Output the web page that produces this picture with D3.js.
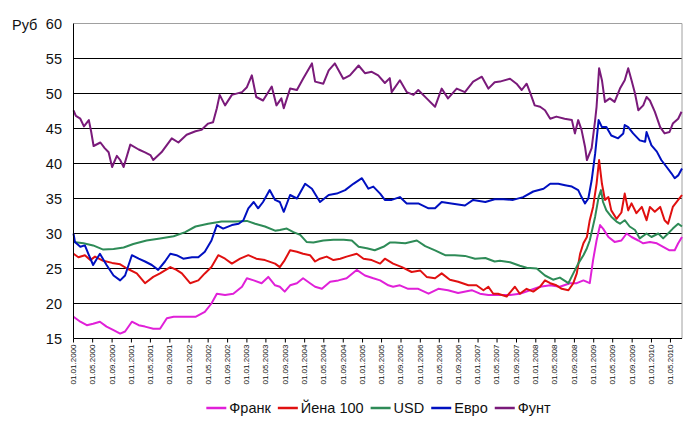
<!DOCTYPE html>
<html><head><meta charset="utf-8">
<script src="https://cdn.jsdelivr.net/npm/d3@7"></script>
<style>
html,body{margin:0;padding:0;background:#fff;}
svg text{font-family:"Liberation Sans",Arial,sans-serif;}
</style></head>
<body><svg id="c" width="695" height="422"></svg>
<script>
// values: [month offset from 01.01.2000, rubles]
const seriesNames = ["Франк","Йена 100","USD","Евро","Фунт"];
const yTicks = [15,20,25,30,35,40,45,50,55,60];
const frank = [[0,18.1],[1.4,17.4],[2.8,16.9],[4.1,17.1],[5.5,17.4],[6.9,16.7],[8.3,16.2],[9.7,15.7],[10.7,16],[12.1,17.4],[13.5,16.9],[14.9,16.7],[16.6,16.4],[18,16.4],[19.4,17.9],[20.8,18.1],[23.2,18.1],[25.3,18.1],[27.3,18.8],[28.7,20],[29.8,21.4],[31.5,21.2],[33.2,21.4],[35,22.4],[36,23.6],[37.4,23.3],[39.1,22.9],[40.5,23.8],[41.9,22.6],[42.9,22.4],[43.9,21.7],[45,22.6],[46.4,22.9],[47.7,23.6],[49.1,22.9],[50.2,22.4],[51.6,22.1],[53.3,23.1],[55,23.3],[56.7,23.6],[58.8,24.8],[60.5,24],[62.3,23.6],[63.7,23.3],[65.4,22.6],[66.4,22.4],[67.8,22.6],[69.5,22.1],[71.6,22.1],[73.7,21.4],[75.8,22.1],[77.8,21.9],[79.9,21.5],[82.7,21.9],[84.4,21.4],[86.2,21.2],[88.6,21.2],[90.7,21.2],[92.7,21.4],[94.8,21.9],[96.9,22.4],[99,22.6],[101,22.4],[103.1,22.9],[104.5,22.9],[105.9,23.3],[107.2,22.9],[107.9,26.2],[108.6,29],[109.3,31.2],[110,30.7],[111.1,29.5],[112.4,28.8],[113.8,29],[114.9,30],[115.9,29.5],[117.3,29],[118.3,28.6],[119.7,28.8],[121.1,28.6],[122.5,28.1],[123.8,27.6],[124.9,27.6],[125.6,28.6],[126.4,29.5]];
const yen = [[0,27.1],[1,26.6],[2.4,26.9],[3.5,26.2],[4.5,26.7],[6.2,26.1],[8,25.8],[9.7,25.6],[11.1,25],[13.1,24.3],[14.9,22.9],[16.6,23.8],[18,24.3],[20.1,25.2],[21.4,24.8],[22.5,24.3],[24.2,22.9],[25.9,23.3],[27.3,24.3],[28.7,25.2],[30.1,26.9],[31.5,26.4],[32.9,25.7],[34.6,26.4],[36.3,26.9],[38,26.4],[39.8,26.2],[41.9,25.7],[42.9,25.2],[43.9,26.2],[45,27.6],[46.4,27.4],[47.7,27.1],[49.1,26.9],[50.2,26],[51.2,26.4],[52.6,26.7],[54,26.2],[55.4,26.4],[56.7,26.7],[58.8,27.1],[60.2,26.4],[61.9,26.2],[63.7,25.7],[64.7,26.4],[66.4,25.7],[68.2,25.2],[70.2,24.5],[72,24.7],[73.3,23.8],[75.1,23.6],[76.5,24.3],[78.2,23.4],[79.9,23.1],[82,22.6],[83.7,22.6],[85.1,21.9],[86.2,22.4],[87.2,21.4],[88.2,21.4],[90,21],[91.7,22.4],[92.7,21.4],[94.1,22.1],[95.5,21.7],[96.9,22.4],[97.9,23.3],[99,22.9],[100.3,22.6],[101.4,22.1],[102.8,21.9],[103.8,22.9],[104.5,24.3],[105.2,27.1],[105.9,28.6],[106.6,29.5],[107.2,31.9],[107.9,33.8],[108.6,37.1],[109.1,40.5],[109.7,37.1],[110.4,34.8],[111.1,35.2],[111.7,33.3],[112.8,32.1],[113.8,33],[114.5,35.7],[115.2,33.3],[115.9,34.3],[116.9,32.9],[118,33.8],[119,31.9],[119.7,33.8],[120.7,33.1],[121.8,33.8],[122.8,31.9],[123.5,31.4],[124.5,33.8],[125.6,34.8],[126.4,35.5]];
const usd = [[0,28.8],[2.1,28.6],[4.1,28.3],[6.2,27.7],[8.3,27.8],[10.4,28],[12.4,28.5],[15.2,29],[18,29.3],[20.8,29.6],[23.2,30.2],[25.3,31],[28,31.4],[30.8,31.7],[33.6,31.7],[36,31.8],[37.7,31.4],[39.8,31],[41.9,30.4],[42.9,30.5],[44.3,30.7],[45.7,30.2],[47.1,29.8],[48.4,28.8],[49.8,28.7],[51.9,29],[54,29.1],[56.1,29.1],[57.8,29],[59.2,28.1],[60.9,27.9],[62.6,27.6],[64.4,28.1],[65.7,28.7],[66.8,28.7],[68.9,28.6],[71.3,29],[73,28.2],[75.1,27.6],[77.2,26.9],[79.2,26.9],[81.3,26.8],[83.4,26.4],[85.5,26.5],[87.5,26],[88.6,26.1],[90.7,25.9],[92.7,25.4],[94.1,25.1],[96.2,25],[97.9,24],[99.6,23.4],[101,23.7],[102.8,22.9],[103.8,24.3],[104.8,25.7],[105.9,26.9],[106.6,27.9],[107.2,29],[108.3,32.4],[109,35.2],[109.5,36.2],[110,34.5],[110.7,33.3],[111.7,32.4],[112.8,31.7],[113.5,31.4],[114.5,31.9],[115.5,31],[116.6,30.5],[117.6,29.3],[119,30],[120,29.5],[121.4,30],[122.5,29.3],[123.5,30],[124.5,30.7],[125.6,31.4],[126.4,31]];
const euro = [[0,30],[0.3,28.8],[1.4,28.1],[2.4,28.3],[3.1,27.1],[4.1,25.5],[5.5,27.1],[6.9,25.5],[8.3,24],[9.7,23.3],[10.7,24],[12.1,26.9],[13.5,26.4],[14.9,26],[16.3,25.5],[17.6,24.8],[19,26],[20.1,27.1],[21.4,26.9],[22.8,26.4],[24.6,26.6],[25.9,26.6],[27.3,27.4],[28.7,29],[29.8,31.2],[31.1,30.7],[32.9,31.2],[34.3,31.4],[35.3,31.9],[36.3,33.6],[37.4,34.5],[38.4,33.6],[39.4,34.5],[40.8,36.2],[41.9,34.8],[42.9,34.5],[43.7,33.1],[45,35.5],[46.4,35],[48.1,37.1],[49.5,36.4],[51.2,34.5],[53,35.5],[54.7,35.7],[56.4,36.2],[58.1,37.1],[59.9,37.9],[61.2,36.4],[62.3,36.7],[63.7,35.7],[64.7,34.8],[66.1,34.8],[67.8,35.2],[69.2,34.3],[71.6,34.3],[73.7,33.6],[75.1,33.6],[76.5,34.5],[78.5,34.3],[81.3,34],[83,34.8],[85.5,34.5],[87.5,34.9],[89.3,34.9],[91.3,34.8],[93.4,35.2],[95.5,36],[97.6,36.4],[99,37.1],[100.7,37.1],[102.1,36.9],[103.5,36.7],[104.8,36.2],[105.5,35.2],[106.2,34.3],[106.9,35],[107.6,37.6],[108.3,41.4],[109,46.2],[109.7,45.2],[110.7,45.2],[111.7,44],[113.1,43.6],[114.2,44.3],[114.5,45.5],[115.2,45.2],[116.2,44.3],[117.6,43.3],[118.7,43.1],[119,44.5],[120,42.6],[121.1,41.7],[122.1,40.5],[123.2,39.5],[124.2,38.6],[124.9,37.9],[125.6,38.3],[126.4,39.3]];
const funt = [[0,47.6],[0.5,46.8],[1.4,46.4],[2.2,45.3],[3.2,46.2],[3.7,44.5],[4.2,42.5],[5.6,43],[6.5,42.2],[7.3,41.6],[8,39.5],[9,41.1],[9.7,40.5],[10.4,39.5],[11.8,42.7],[13.5,42],[14.9,41.6],[16,41.2],[16.6,40.5],[18.3,41.6],[20.4,43.6],[21.8,43],[23.5,44.1],[25.3,44.6],[26.6,44.8],[28,45.7],[29,45.9],[29.8,47.9],[30.4,49.8],[31.5,48.3],[32.9,49.8],[35,50.2],[36,50.9],[37,52.6],[38,49.5],[39.4,49],[41.2,51],[42.2,48.3],[43.2,49.3],[43.7,47.9],[45,50.7],[46.4,50.5],[47.7,52.1],[49.5,54.3],[50.2,51.7],[51.9,51.4],[53,53.3],[54.3,54.3],[56,52.1],[57.4,52.6],[59.2,54],[60.5,52.9],[61.9,53.1],[63.3,52.6],[64.7,51.5],[65.7,52.2],[66.1,50.2],[67.8,51.9],[69.2,50.2],[70.6,49.8],[71.6,50.5],[73.3,49.3],[75.1,48.1],[76.5,50.7],[77.8,49.3],[79.6,50.7],[81.3,50.2],[83,51.7],[84.8,52.4],[86.2,50.7],[87.5,51.6],[88.6,51.7],[90.7,52.1],[92,51.4],[93.1,50.5],[94.1,51.4],[94.8,50.2],[95.8,48.3],[96.9,48.1],[97.9,47.6],[99,46.4],[100.3,46.7],[102,46.4],[103.5,46.2],[104.1,44.3],[104.8,46.2],[105.5,44.8],[106.2,42.4],[106.6,40.5],[106.9,41],[107.6,42.2],[108.3,46.2],[108.6,48.1],[109.1,53.6],[109.7,51.9],[110.4,48.8],[111.4,49.3],[112.4,48.8],[113.5,50.7],[114.5,51.9],[115.2,53.6],[115.9,51.9],[116.6,50],[117.3,47.6],[118.3,48.3],[119,49.5],[119.7,49],[120.7,47.4],[121.8,45.2],[122.8,44.3],[123.8,44.5],[124.5,45.7],[125.6,46.4],[126.3,47.4]];
const seriesData = [frank, yen, usd, euro, funt];
const colors = ["#e020d8","#e01010","#2e8b57","#0010c0","#7a1a7a"];

const toDate = m => new Date(2000, Math.floor(m), 1 + Math.round((m % 1) * 30));
const L = 73.5, R = 682, T = 23.5, B = 338.5;
const svg = d3.select("#c");
const x = d3.scaleTime().domain([toDate(0), toDate(126.4)]).range([L, R]);
const y = d3.scaleLinear().domain([15, 60]).range([B, T]);

// gridlines
svg.append("g").selectAll("line").data(yTicks.filter(v => v > 15 && v < 60)).join("line")
  .attr("x1", L).attr("x2", R).attr("y1", d => y(d)).attr("y2", d => y(d))
  .attr("stroke", "#000").attr("stroke-width", 1);
// plot border (top/right grey)
svg.append("path").attr("d", `M${L},${T}H${R}V${B}`).attr("fill", "none").attr("stroke", "#a0a0a0").attr("stroke-width", 1);

// y labels
svg.append("g").selectAll("text").data(yTicks).join("text")
  .attr("x", 62).attr("y", d => y(d) + 5).attr("text-anchor", "end")
  .attr("font-size", "14.5px").attr("fill", "#111").text(d => d);
svg.append("text").attr("x", 12).attr("y", 30).attr("font-size", "14.5px").attr("fill", "#111").text("Руб");

// lines
const line = d3.line().x(d => x(toDate(d[0]))).y(d => y(d[1]));
svg.append("g").selectAll("path").data(seriesData).join("path")
  .attr("d", d => line(d)).attr("fill", "none")
  .attr("stroke", (d, i) => colors[i]).attr("stroke-width", 2).attr("stroke-linejoin", "round");

// axes lines
svg.append("line").attr("x1", L).attr("x2", L).attr("y1", T).attr("y2", B).attr("stroke", "#000");
svg.append("line").attr("x1", L).attr("x2", R).attr("y1", B).attr("y2", B).attr("stroke", "#000");

// x ticks
const xt = x.ticks(d3.timeMonth.every(4)).filter(d => d <= x.domain()[1]);
const fmt = d3.timeFormat("%d.%m.%Y");
const gx = svg.append("g");
gx.selectAll("line").data(xt).join("line")
  .attr("x1", d => x(d)).attr("x2", d => x(d)).attr("y1", B).attr("y2", B + 4).attr("stroke", "#000");
gx.selectAll("text").data(xt).join("text")
  .attr("transform", d => `translate(${x(d)},${B + 6}) rotate(-90)`)
  .attr("text-anchor", "end").attr("dy", "0.3em").attr("font-size", "8px").attr("fill", "#111")
  .text(d => fmt(d));

// legend
const lg = svg.append("g");
let cx = 0;
seriesNames.forEach((n, i) => {
  const g = lg.append("g").attr("transform", `translate(${cx},0)`);
  g.append("line").attr("x1", 0).attr("x2", 20).attr("y1", 408).attr("y2", 408).attr("stroke", colors[i]).attr("stroke-width", 2.5);
  const t = g.append("text").attr("x", 23).attr("y", 413).attr("font-size", "14.5px").attr("fill", "#111").text(n);
  cx += 23 + t.node().getComputedTextLength() + 7;
});
lg.attr("transform", `translate(${378.5 - (cx - 7) / 2},0)`);
</script></body></html>
